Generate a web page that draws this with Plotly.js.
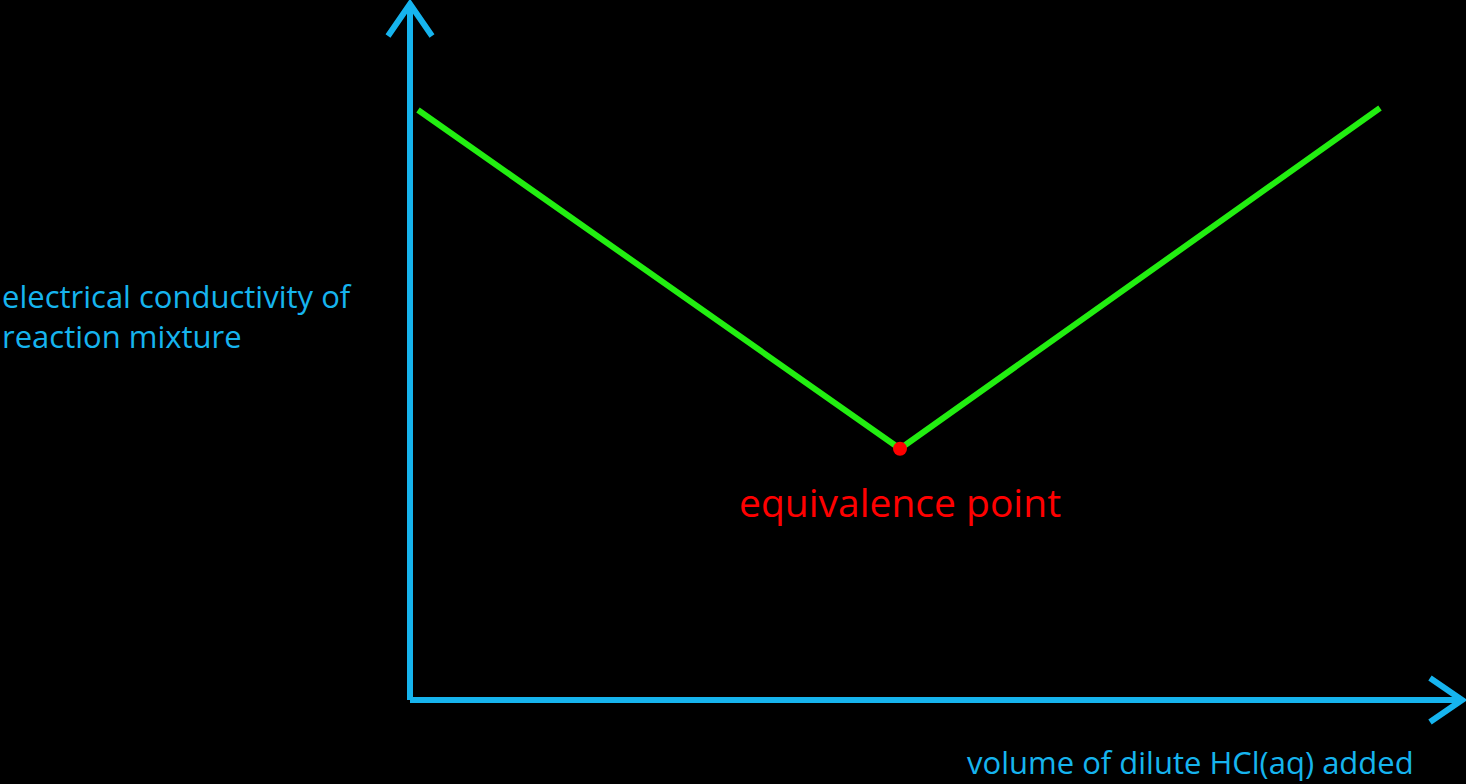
<!DOCTYPE html>
<html><head><meta charset="utf-8">
<script src="https://cdn.plot.ly/plotly-3.0.1.min.js"></script>
<style>html,body{margin:0;background:#000}</style></head>
<body><div id="myDiv" style="width:1466px;height:784px"></div>
<script>
// volume of HCl added (arbitrary units) and conductivity (arbitrary units)
var volume = [0.2, 12.25, 24.25];
var conductivity = [14.75, 6.28, 14.8];
var eqVolume = [12.25];
var eqConductivity = [6.28];

var blue = '#16b4ee';

var line = {
  x: volume, y: conductivity, mode: 'lines', type: 'scatter',
  line: {color: '#22ee11', width: 6}, hoverinfo: 'none'
};
var eq = {
  x: eqVolume, y: eqConductivity, mode: 'markers', type: 'scatter',
  marker: {color: '#ff0000', size: 14}
};

var layout = {
  width: 1466, height: 784,
  margin: {l: 0, r: 0, t: 0, b: 0},
  paper_bgcolor: '#000', plot_bgcolor: '#000',
  showlegend: false,
  xaxis: {range: [-10.25, 26.4], visible: false},
  yaxis: {range: [-2.1, 17.5], visible: false},
  shapes: [
    // y axis and arrow
    {type: 'line', x0: 0, y0: 0, x1: 0, y1: 17.35, line: {color: blue, width: 6}},
    {type: 'path', path: 'M -0.55 16.6 L 0 17.4 L 0.55 16.6', line: {color: blue, width: 6}},
    // x axis and arrow
    {type: 'line', x0: 0, y0: 0, x1: 26.2, y1: 0, line: {color: blue, width: 6}},
    {type: 'path', path: 'M 25.5 0.55 L 26.3 0 L 25.5 -0.55', line: {color: blue, width: 6}}
  ],
  annotations: [
    {x: eqVolume[0], y: eqConductivity[0], xanchor: 'center', yanchor: 'middle', yshift: -53,
     showarrow: false, text: 'equivalence point',
     font: {color: '#ff0000', size: 39, family: 'Open Sans'}},
    {xref: 'paper', yref: 'paper', x: 0, y: 0.597, xanchor: 'left', yanchor: 'middle', align: 'left',
     showarrow: false, text: 'electrical conductivity of<br>reaction mixture',
     font: {color: blue, size: 31, family: 'Open Sans'}},
    {xref: 'paper', yref: 'paper', x: 0.966, y: 0.028, xanchor: 'right', yanchor: 'middle',
     showarrow: false, text: 'volume of dilute HCl(aq) added',
     font: {color: blue, size: 31, family: 'Open Sans'}}
  ]
};

Plotly.newPlot('myDiv', [line, eq], layout, {staticPlot: true});
</script></body></html>
